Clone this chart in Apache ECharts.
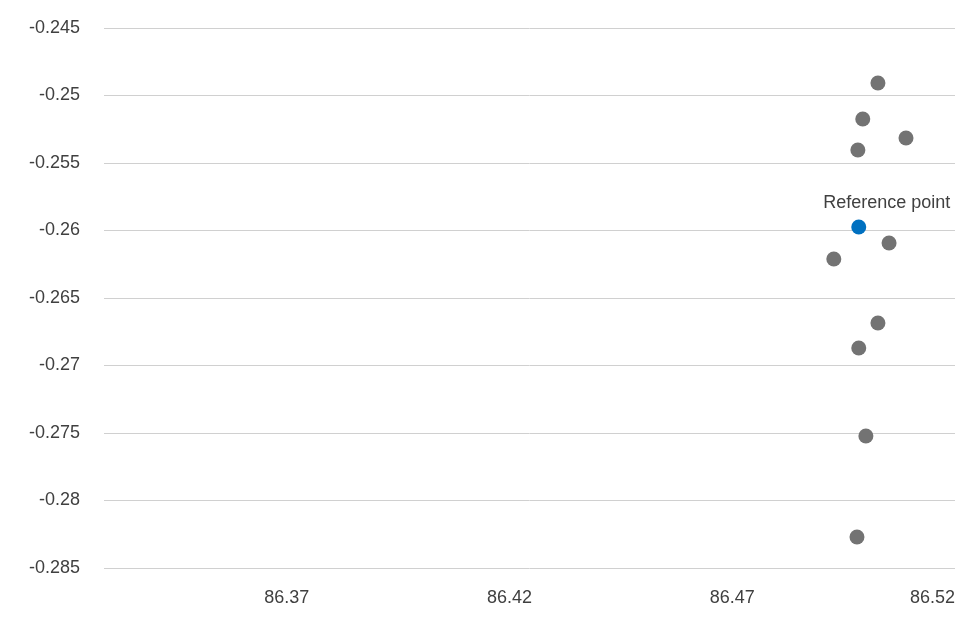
<!DOCTYPE html>
<html>
<head>
<meta charset="UTF-8" />
<script src="https://cdn.jsdelivr.net/npm/echarts@6/dist/echarts.min.js"></script>
<style>
  body { margin: 0; background: #fff; }
  #chart { width: 980px; height: 630px; }
</style>
</head>
<body>
<div id="chart"></div>
<script>
// sample points (x, y)
const xValues = [86.5027, 86.4993, 86.5090, 86.4982, 86.5052, 86.4928, 86.5027, 86.4984, 86.5000, 86.4980];
const yValues = [-0.24907, -0.25174, -0.25315, -0.25404, -0.26093, -0.26211, -0.26685, -0.26870, -0.27522, -0.28270];
const refPoint = [86.4984, -0.25974];
const refLabel = 'Reference point';
const xTicks = [86.37, 86.42, 86.47, 86.52];

const font = 'Liberation Sans, Arial, sans-serif';
const chart = echarts.init(document.getElementById('chart'));
chart.setOption({
  animation: false,
  grid: { left: 104, right: 25, top: 28, bottom: 62 },
  xAxis: {
    type: 'value',
    min: 86.329,
    max: 86.52,
    axisLine: { show: false },
    axisTick: { show: false },
    splitLine: { show: false },
    axisLabel: {
      customValues: xTicks,
      alignMaxLabel: 'right',
      margin: 21,
      color: '#404040',
      fontSize: 18,
      fontFamily: font
    }
  },
  yAxis: {
    type: 'value',
    min: -0.285,
    max: -0.245,
    interval: 0.005,
    axisLine: { show: false },
    axisTick: { show: false },
    splitLine: { lineStyle: { color: '#d0d0d0', width: 1 } },
    axisLabel: {
      margin: 24,
      color: '#404040',
      fontSize: 18,
      fontFamily: font,
      formatter: v => String(+v.toFixed(3))
    }
  },
  series: [
    {
      type: 'scatter',
      symbolSize: 15,
      itemStyle: { color: '#737373', opacity: 1 },
      data: xValues.map((x, i) => [x, yValues[i]])
    },
    {
      type: 'scatter',
      symbolSize: 15,
      itemStyle: { color: '#0070c0', opacity: 1 },
      label: {
        show: true,
        position: 'top',
        distance: 7,
        offset: [28, 0],
        formatter: refLabel,
        color: '#404040',
        fontSize: 18,
        fontFamily: font
      },
      data: [refPoint]
    }
  ]
});
</script>
</body>
</html>
